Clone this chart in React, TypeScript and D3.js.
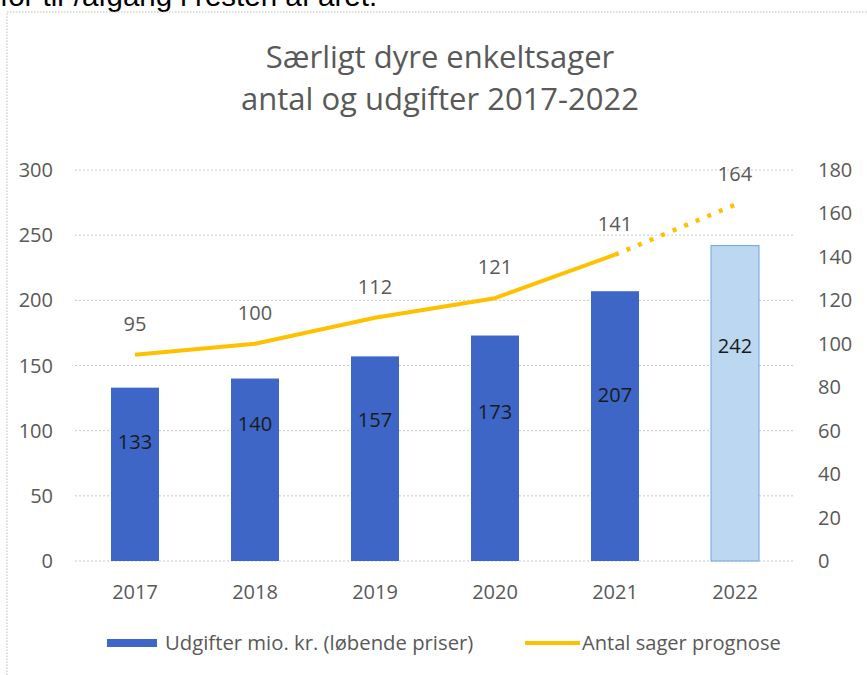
import React from "react";
import * as d3 from "d3";

const years = ["2017", "2018", "2019", "2020", "2021", "2022"];
const spending = [133, 140, 157, 173, 207, 242];
const spendingLabelAt = [91, 105, 108, 114, 127, 165];
const cases = [95, 100, 112, 121, 141, 164];
const leftTicks = [0, 50, 100, 150, 200, 250, 300];
const rightTicks = [0, 20, 40, 60, 80, 100, 120, 140, 160, 180];
const titleLines = ["Særligt dyre enkeltsager", "antal og udgifter 2017-2022"];
const legendLabels = ["Udgifter mio. kr. (løbende priser)", "Antal sager prognose"];
const topText = "for til-/afgang i resten af året.";

const W = 867;
const H = 675;
const plot = { left: 75, right: 795, top: 170, bottom: 561 };
const font = "'Open Sans', 'DejaVu Sans', sans-serif";
const gray = "#595959";

export default function App() {
  const x = d3.scaleBand().domain(years).range([plot.left, plot.right]).paddingInner(0.6).paddingOuter(0.3);
  const xc = (y: string) => (x(y) as number) + x.bandwidth() / 2;
  const yL = d3.scaleLinear().domain([0, 300]).range([plot.bottom, plot.top]);
  const yR = d3.scaleLinear().domain([0, 180]).range([plot.bottom, plot.top]);
  const line = d3.line<number>().x((_, i) => xc(years[i])).y((d) => yR(d));
  const solidPts = cases.slice(0, 5);
  const dotted = d3.line<number>().x((_, i) => xc(years[i + 4])).y((d) => yR(d))(cases.slice(4));

  return (
    <svg width={W} height={H} style={{ position: "absolute", left: 0, top: 0, background: "#fff" }}>
      <text x={0} y={6} fontFamily="'Liberation Sans', Arial, sans-serif" fontSize={29.5} fill="#000">{topText}</text>
      <rect x={7} y={12} width={W} height={H} fill="none" stroke="#bdbdbd" strokeDasharray="1.5,1.5" />
      {titleLines.map((t, i) => (
        <text key={t} x={440} y={68 + i * 42} textAnchor="middle" fontFamily={font} fontSize={31} fill={gray}>{t}</text>
      ))}
      {leftTicks.map((t) => (
        <g key={t}>
          <line x1={plot.left} x2={plot.right} y1={yL(t)} y2={yL(t)} stroke="#c8c8c8" strokeDasharray="2,2" />
          <text x={53} y={yL(t)} dy="0.35em" textAnchor="end" fontFamily={font} fontSize={20} fill={gray}>{t}</text>
        </g>
      ))}
      {rightTicks.map((t) => (
        <text key={t} x={818} y={yR(t)} dy="0.35em" textAnchor="start" fontFamily={font} fontSize={20} fill={gray}>{t}</text>
      ))}
      {spending.map((v, i) => {
        const last = i === spending.length - 1;
        return (
          <g key={years[i]}>
            <rect x={x(years[i])} y={yL(v)} width={x.bandwidth()} height={yL(0) - yL(v)}
              fill={last ? "#bcd8f0" : "#3d66c6"} stroke={last ? "#6fa5dc" : "none"} />
            <text x={xc(years[i])} y={yL(spendingLabelAt[i])} dy="0.35em" textAnchor="middle" fontFamily={font} fontSize={20} fill="#1a1a1a">{v}</text>
          </g>
        );
      })}
      {years.map((y) => (
        <text key={y} x={xc(y)} y={592} dy="0.35em" textAnchor="middle" fontFamily={font} fontSize={20} fill={gray}>{y}</text>
      ))}
      <path d={line(solidPts) as string} fill="none" stroke="#ffc000" strokeWidth={4} strokeLinejoin="round" />
      <path d={dotted as string} fill="none" stroke="#ffc000" strokeWidth={4.5} strokeDasharray="4,8.5" />
      {cases.map((v, i) => (
        <text key={years[i]} x={xc(years[i])} y={yR(v) - 31} dy="0.35em" textAnchor="middle" fontFamily={font} fontSize={20} fill={gray}>{v}</text>
      ))}
      <rect x={107} y={639} width={50} height={8} fill="#3d66c6" />
      <text x={165} y={643} dy="0.35em" fontFamily={font} fontSize={20.3} fill={gray}>{legendLabels[0]}</text>
      <line x1={525} x2={580} y1={643} y2={643} stroke="#ffc000" strokeWidth={4} />
      <text x={582} y={643} dy="0.35em" fontFamily={font} fontSize={20.1} fill={gray}>{legendLabels[1]}</text>
    </svg>
  );
}
